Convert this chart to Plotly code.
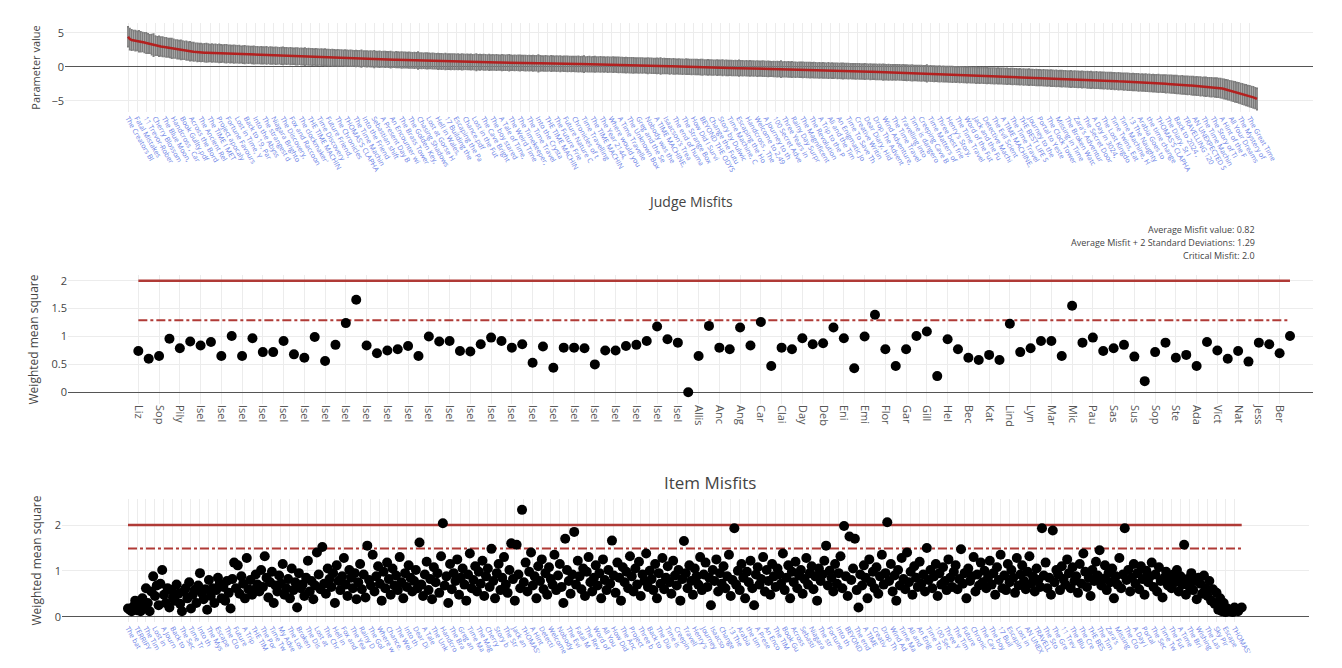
import plotly.graph_objects as go

# ---------------- Item parameter estimates (sorted) ----------------
PARAM = [
 4.45, 4.10, 3.97,
 3.93, 3.88, 3.84, 3.78, 3.71, 3.66, 3.59, 3.52, 3.45, 3.38, 3.29, 3.20,
 3.15, 3.10, 3.06, 3.01, 2.97, 2.92, 2.88, 2.83, 2.79, 2.74, 2.70, 2.65, 2.60,
 2.56, 2.52, 2.48, 2.44, 2.40, 2.36, 2.32, 2.28, 2.24, 2.20, 2.16,
 2.15, 2.13, 2.12, 2.10, 2.09, 2.08, 2.06, 2.05, 2.04, 2.03, 2.01, 2.00,
 1.99, 1.98, 1.96, 1.95, 1.94, 1.92, 1.91, 1.90, 1.88, 1.87, 1.86, 1.84, 1.83, 1.82, 1.81, 1.80, 1.79, 1.77, 1.76,
 1.75, 1.74, 1.73, 1.73, 1.72, 1.71, 1.70, 1.69, 1.68, 1.68, 1.67, 1.66, 1.66, 1.65, 1.64, 1.64, 1.63, 1.62,
 1.61, 1.60, 1.59, 1.58, 1.57, 1.56, 1.55, 1.54, 1.53, 1.52, 1.51, 1.50, 1.49, 1.48, 1.47, 1.46, 1.45, 1.44, 1.43, 1.42, 1.41, 1.40, 1.39, 1.38, 1.37,
 1.36, 1.35, 1.34, 1.34, 1.33, 1.32, 1.31, 1.30, 1.29, 1.28, 1.27, 1.27, 1.26, 1.25, 1.24, 1.23, 1.22, 1.21, 1.20, 1.20,
 1.19, 1.18, 1.17, 1.16, 1.15, 1.14, 1.13, 1.13, 1.12, 1.11, 1.10, 1.09, 1.08, 1.07, 1.07, 1.06, 1.05,
 1.04, 1.03, 1.02, 1.01, 1.00, 0.99, 0.98, 0.97, 0.96, 0.95, 0.94, 0.93, 0.92, 0.91, 0.90, 0.89, 0.88, 0.87, 0.86, 0.85,
 0.84, 0.83, 0.82, 0.81, 0.80, 0.80, 0.79, 0.78,
 0.78, 0.77, 0.77, 0.76, 0.76, 0.75, 0.75, 0.74, 0.74, 0.73, 0.73, 0.72, 0.72, 0.71, 0.71, 0.70, 0.70, 0.69, 0.69, 0.68,
 0.68, 0.67, 0.67, 0.66, 0.66, 0.65, 0.65, 0.64, 0.64, 0.63, 0.63, 0.62, 0.62, 0.61, 0.61, 0.60, 0.60, 0.59, 0.59, 0.58,
 0.58, 0.57, 0.57, 0.56, 0.56, 0.55, 0.55, 0.54, 0.54, 0.53, 0.53, 0.52, 0.52, 0.51, 0.51, 0.50, 0.50, 0.49, 0.49, 0.48,
 0.48, 0.47, 0.47, 0.46, 0.46, 0.45, 0.45, 0.44, 0.44, 0.43, 0.43, 0.42, 0.42, 0.41, 0.41, 0.41, 0.40, 0.40, 0.40, 0.39,
 0.39, 0.39,
 0.38, 0.37, 0.37, 0.36, 0.35, 0.34, 0.34, 0.33, 0.32, 0.31, 0.31, 0.30, 0.29, 0.28, 0.28, 0.27, 0.26, 0.25, 0.25, 0.24,
 0.23, 0.22, 0.22, 0.21, 0.20, 0.19, 0.19, 0.18, 0.17, 0.16, 0.16, 0.15, 0.14, 0.13, 0.13, 0.12, 0.11, 0.10, 0.10, 0.09,
 0.08, 0.07, 0.07, 0.06, 0.05, 0.04, 0.04, 0.03, 0.02, 0.01, 0.01, 0.00, -0.01, -0.02, -0.02, -0.03, -0.04, -0.05, -0.05, -0.06,
 -0.07, -0.08, -0.08, -0.09, -0.10, -0.11, -0.11, -0.12, -0.13, -0.14, -0.14, -0.15, -0.16, -0.16, -0.17, -0.17, -0.18, -0.18, -0.19, -0.19,
 -0.20, -0.20,
 -0.21, -0.22, -0.22, -0.23, -0.24, -0.25, -0.25, -0.26, -0.27, -0.28, -0.28, -0.29, -0.30, -0.31, -0.31, -0.32, -0.33, -0.34, -0.34, -0.35,
 -0.36, -0.37, -0.37, -0.38, -0.39, -0.40, -0.40, -0.41, -0.42, -0.43, -0.43, -0.44, -0.45, -0.46, -0.46, -0.47, -0.48, -0.49, -0.49, -0.50,
 -0.51, -0.52, -0.52, -0.53, -0.54, -0.55, -0.55, -0.56, -0.57, -0.58, -0.58, -0.59, -0.60, -0.61, -0.61, -0.62, -0.63, -0.64, -0.64, -0.65,
 -0.66, -0.67, -0.67, -0.68, -0.69, -0.70, -0.70, -0.71, -0.72, -0.73, -0.73, -0.74, -0.75, -0.75, -0.76, -0.77, -0.77, -0.78, -0.78, -0.79,
 -0.79, -0.80,
 -0.81, -0.82, -0.83, -0.84, -0.85, -0.86, -0.87, -0.88, -0.89, -0.90, -0.91, -0.92, -0.93, -0.94, -0.95, -0.96, -0.97, -0.98, -0.99, -1.00,
 -1.01, -1.02, -1.03, -1.03, -1.04, -1.05, -1.06, -1.07, -1.08, -1.09, -1.10, -1.11, -1.12, -1.13, -1.14, -1.15, -1.16, -1.17, -1.18, -1.19,
 -1.20, -1.21, -1.22, -1.23, -1.23, -1.24, -1.25, -1.26, -1.27, -1.28, -1.29, -1.30, -1.30, -1.31, -1.32,
 -1.33, -1.34, -1.35, -1.36, -1.37, -1.38, -1.40, -1.41, -1.42, -1.43, -1.44, -1.45, -1.47, -1.48, -1.49, -1.50, -1.51, -1.52, -1.54, -1.55,
 -1.56, -1.57, -1.58, -1.59, -1.61, -1.62, -1.63, -1.64, -1.65, -1.66, -1.68, -1.69, -1.70, -1.71, -1.72, -1.73, -1.75, -1.76, -1.77, -1.78,
 -1.79, -1.80, -1.82, -1.83, -1.84, -1.85, -1.86, -1.87, -1.89, -1.90, -1.91, -1.92, -1.93, -1.94, -1.95,
 -1.96, -1.98, -1.99, -2.01, -2.02, -2.04, -2.05, -2.07, -2.08, -2.10, -2.11, -2.12, -2.14, -2.15, -2.17, -2.18, -2.20, -2.21, -2.23, -2.24,
 -2.26, -2.27, -2.28, -2.30, -2.31, -2.33, -2.34, -2.36, -2.37, -2.39, -2.40, -2.41, -2.43, -2.44, -2.46, -2.47, -2.49, -2.50,
 -2.52, -2.54, -2.56, -2.58, -2.60, -2.62, -2.64, -2.66, -2.68, -2.70, -2.72, -2.74, -2.76, -2.78, -2.80, -2.83, -2.85,
 -2.87, -2.89, -2.91, -2.93, -2.95, -2.97, -2.99, -3.01, -3.04, -3.07, -3.10,
 -3.16, -3.23, -3.30, -3.37, -3.44, -3.51, -3.58, -3.65, -3.73, -3.81, -3.90,
 -3.98, -4.06, -4.14, -4.22, -4.30, -4.38, -4.47, -4.57, -4.70,
]

# standard errors of the parameter estimates (error bars)
SE = [
 1.45,1.55,1.50,1.42,1.48,1.40,1.52,1.45,1.38,1.44,1.50,1.42,1.36,1.47,1.62,1.40,1.35,1.45,1.38,1.42,
 1.36,1.40,1.33,1.38,1.45,1.35,1.30,1.37,1.32,1.40,1.34,1.28,1.36,1.31,1.38,1.30,1.34,1.27,1.33,1.29,
 1.32,1.26,1.30,1.35,1.28,1.24,1.31,1.27,1.29,1.25,1.33,1.26,1.23,1.28,1.30,1.24,1.27,1.22,1.29,1.25,
 1.23,1.27,1.21,1.26,1.30,1.22,1.25,1.20,1.24,1.28,1.21,1.23,1.19,1.25,1.22,1.20,1.26,1.18,1.23,1.21,
 1.19,1.24,1.20,1.17,1.22,1.25,1.18,1.21,1.16,1.23,1.19,1.17,1.22,1.20,1.15,1.21,1.18,1.24,1.16,1.19,
 1.17,1.20,1.15,1.22,1.18,1.14,1.19,1.16,1.21,1.15,1.18,1.13,1.20,1.16,1.14,1.19,1.15,1.17,1.12,1.18,
 1.15,1.12,1.17,1.13,1.10,1.16,1.12,1.14,1.20,1.11,1.13,1.15,1.10,1.14,1.12,1.22,1.11,1.13,1.16,1.10,
 1.12,1.15,1.10,1.13,1.18,1.11,1.09,1.14,1.12,1.10,1.16,1.11,1.13,1.09,1.15,1.12,1.10,1.14,1.11,1.24,
 1.10,1.13,1.09,1.12,1.15,1.10,1.08,1.13,1.11,1.09,1.14,1.10,1.12,1.08,1.16,1.11,1.09,1.13,1.10,1.12,
 1.09,1.12,1.08,1.14,1.10,1.07,1.11,1.09,1.13,1.08,1.10,1.20,1.09,1.11,1.07,1.12,1.10,1.08,1.13,1.09,
 1.11,1.08,1.12,1.09,1.07,1.13,1.10,1.08,1.11,1.15,1.09,1.07,1.12,1.08,1.10,1.13,1.07,1.09,1.11,1.08,
 1.10,1.07,1.12,1.09,1.08,1.22,1.10,1.07,1.09,1.11,1.08,1.06,1.12,1.09,1.07,1.10,1.08,1.13,1.06,1.09,
 1.08,1.11,1.07,1.09,1.06,1.10,1.08,1.12,1.07,1.09,1.18,1.06,1.08,1.10,1.07,1.09,1.11,1.06,1.08,1.10,
 1.07,1.09,1.06,1.11,1.08,1.06,1.10,1.07,1.09,1.12,1.06,1.08,1.07,1.10,1.06,1.09,1.08,1.11,1.07,1.06,
 1.09,1.07,1.10,1.06,1.08,1.12,1.07,1.09,1.06,1.08,1.10,1.07,1.16,1.06,1.09,1.08,1.07,1.10,1.06,1.09,
 1.08,1.06,1.10,1.07,1.09,1.06,1.11,1.08,1.07,1.09,1.06,1.10,1.08,1.07,1.09,1.12,1.06,1.08,1.10,1.07,
 1.09,1.07,1.06,1.10,1.08,1.07,1.11,1.06,1.09,1.08,1.07,1.10,1.06,1.09,1.08,1.13,1.07,1.09,1.06,1.10,
 1.08,1.10,1.07,1.09,1.06,1.11,1.08,1.07,1.10,1.09,1.07,1.12,1.08,1.06,1.09,1.07,1.10,1.08,1.18,1.07,
 1.09,1.07,1.10,1.08,1.11,1.07,1.09,1.06,1.10,1.08,1.12,1.07,1.09,1.08,1.10,1.07,1.11,1.09,1.07,1.10,
 1.08,1.11,1.09,1.07,1.12,1.08,1.10,1.09,1.07,1.11,1.08,1.10,1.13,1.08,1.09,1.11,1.07,1.10,1.08,1.12,
 1.09,1.11,1.08,1.10,1.13,1.09,1.07,1.11,1.10,1.08,1.12,1.09,1.11,1.08,1.14,1.10,1.09,1.12,1.08,1.11,
 1.10,1.12,1.09,1.11,1.08,1.13,1.10,1.12,1.09,1.11,1.14,1.10,1.08,1.12,1.10,1.13,1.09,1.11,1.21,1.10,
 1.12,1.10,1.13,1.09,1.11,1.14,1.10,1.12,1.11,1.09,1.13,1.11,1.15,1.10,1.12,1.09,1.14,1.11,1.13,1.10,
 1.13,1.11,1.14,1.10,1.12,1.15,1.11,1.13,1.10,1.14,1.12,1.16,1.11,1.13,1.12,1.15,1.10,1.14,1.12,1.13,
 1.14,1.12,1.15,1.11,1.13,1.16,1.12,1.14,1.13,1.17,1.12,1.15,1.13,1.14,1.18,1.12,1.15,1.13,1.16,1.14,
 1.15,1.13,1.17,1.14,1.16,1.12,1.18,1.15,1.14,1.17,1.13,1.16,1.19,1.14,1.17,1.15,1.16,1.20,1.15,1.17,
 1.16,1.18,1.15,1.20,1.17,1.16,1.19,1.17,1.22,1.16,1.18,1.20,1.17,1.19,1.18,1.21,1.17,1.20,1.18,1.22,
 1.19,1.21,1.18,1.23,1.20,1.19,1.22,1.20,1.24,1.21,1.19,1.23,1.21,1.22,1.25,1.20,1.23,1.22,1.26,1.21,
 1.24,1.22,1.26,1.23,1.25,1.28,1.24,1.26,1.25,1.29,1.26,1.27,1.30,1.26,1.28,1.31,1.27,1.29,1.32,1.28,
 1.30,1.33,1.29,1.32,1.35,1.31,1.34,1.33,1.36,1.32,1.35,1.38,1.34,1.36,1.39,1.35,1.38,1.40,1.37,1.41,
 1.39,1.42,1.40,1.44,1.41,1.45,1.43,1.47,1.44,1.48,1.46,1.50,1.47,1.52,1.49,1.53,1.51,1.55,1.52,1.56,
]

# tick labels (every 5th item) for the parameter chart
TOP_TICKS = [
 "The Creators Blackhe", "Fatal Mistakes : King's", "11 Trevor-Roberts Sch", "Cherry Blossom Boo", "The Blue Moon, St C",
 "Handcross , Carlos' A", "Book Gullty.pdf", "Across the Borders of", "The Ancient Relic Bro", "The TIME I MET THE C",
 "Project apocalypse Mi", "Fortune Favours the B", "Lost in Time, Yasir S", "Back to 19, Parkside", "Into the Abyss Solide",
 "The strangest day, Hol", "Niagara Brighton Colle", "The Discovery, St Geo", "Fox and Raccoon, Wa", "The clockmaker's W",
 "THE TIME MACHINE, C", "Time Discovery . Grov", "Future Friend, St Jos", "The Chronicles of Tim", "THOMAS'S CLAPHAM 7",
 "The Time Machine, St", "Into the Friends, Ma", "Sebastian shifts, Etc", "A Present Day Brighto", "An Encounter with Tim",
 "The Brass Tower, Ca", "The Golden Key, Co", "Chasing Shadows, Ho", "Lost at Gorse Hill, B", "Hell in Wales, Colle",
 "17 Building the Futu", "Escaping the Past, F", "Chance.pdf", "Lost in the Future, H", "The Cave Brighton Co",
 "The boy stared at th", "A Tale of Time, St Be", "The Weird Time Trav", "The Timekeeper, A D", "The Time Travel Brig",
 "Into the Crystal Mac", "THE TIME MACHINE, B", "The Future Friend, W", "Future Nature Corne", "Chronicles of the Pa",
 "Time Travelling Trou", "The TIME MACHINE, T", "The Year 2144, Park", "Where would you go", "A Time Traveller Gam",
 "The Unknown Box, S", "Greg and the Secret", "Nobody was the best", "A TIME MACHINE, AD", "Isaacson's Treasure",
 "The end of humanity", "The Strange Box, St", "How Did I Survive, D", "BEYOND THE ODYSSE", "Change the Future, L",
 "Story by Dulwich Pre", "Time Machine, Cath", "Escaping the Hole, K", "Handcross , The Tim", "Welcome to 2,491, H",
 "A Journey to the Unk", "100 Secret Adventure", "Three Years in the Fu", "Rainy Day Surprise, S", "The Magnificent Tim",
 "The Revolution of Ti", "A Trip to the Past, W", "Ali and the Time Mac", "An Enigmatic Journe", "Time To Save The W",
 "Creative Writing Stor", "Dear Diary, Hidden G", "Drop The Adventure", "Wind Adventure, Brig", "The Time Travelling",
 "Travelling into the Fu", "Time is dangerous, S", "Creeping Cave Bright", "Time Matters of Croy", "Three best friends, C",
 "Henry's Story, Skipp", "The Time Travelling M", "Word of the Future, E", "Jack and the Future", "Detective Machine, A",
 "The Evil Scientist SC", "A TIME MACHINE, Tru", "The Time Travellers", "THE BEST LIFE SUMM", "Journey to the Futur",
 "Portal to Yesterday", "The Clock Tower, Bri", "Missing in Time, Gro", "The Broken Watch, K", "Zara's Adventure, St",
 "The Secret Door, Hol", "A Day in 3024, Park", "The Lost Kingdom, W", "Time Twins, Eaton Sq", "Time Machine, Hidde",
 "13 The Naughty One", "Arabia Goes to Educ", "the time changer, Te", "THOMAS'S CLAPHAM 1", "The Diary, St Ivo Sch",
 "Back to 2024 , Eaton", "TRAVELLING 120 YEA", "AN UNEXPECTED SUR", "The Time Machine, BT", "The Story of Time Tra",
 "A Hint of the Future", "All Your Dreams of Ti", "The Mystery of the Ma", "The Great Time Trave",
]

# ---------------- Judge misfits ----------------
JUDGE_MISFIT = [
 0.74, 0.60, 0.65, 0.96, 0.79, 0.91, 0.84, 0.90, 0.65, 1.01,
 0.65, 0.97, 0.72, 0.72, 0.92, 0.68, 0.62, 0.99, 0.56, 0.85,
 1.24, 1.66, 0.84, 0.70, 0.75, 0.77, 0.83, 0.65, 1.00, 0.91,
 0.92, 0.74, 0.73, 0.86, 0.98, 0.92, 0.80, 0.86, 0.53, 0.82,
 0.44, 0.80, 0.80, 0.79, 0.50, 0.75, 0.75, 0.83, 0.85, 0.92,
 1.18, 0.95, 0.89, 0.00, 0.65, 1.19, 0.80, 0.77, 1.16, 0.84,
 1.26, 0.47, 0.80, 0.77, 0.97, 0.86, 0.88, 1.16, 0.97, 0.43,
 1.00, 1.39, 0.77, 0.47, 0.77, 1.01, 1.09, 0.29, 0.95, 0.77,
 0.62, 0.58, 0.67, 0.58, 1.23, 0.72, 0.79, 0.92, 0.92, 0.65,
 1.55, 0.89, 0.98, 0.74, 0.79, 0.85, 0.64, 0.20, 0.72, 0.89,
 0.62, 0.67, 0.47, 0.90, 0.75, 0.60, 0.74, 0.55, 0.89, 0.86,
 0.70, 1.01,
]
JUDGE_TICKS = [
 "Liz", "Sop", "Pily",
 "Isel", "Isel", "Isel", "Isel", "Isel", "Isel", "Isel", "Isel", "Isel", "Isel", "Isel", "Isel",
 "Isel", "Isel", "Isel", "Isel", "Isel", "Isel", "Isel", "Isel", "Isel", "Isel", "Isel", "Isel",
 "Allis", "Anc", "Ang", "Car", "Clai", "Day", "Deb", "Eni", "Emi", "Flor", "Gar", "Gill", "Hel",
 "Bec", "Kat", "Lind", "Lyn", "Mar", "Mic", "Pau", "Sas", "Sus", "Sop", "Ste", "Ada", "Vict",
 "Nat", "Jess", "Ber",
]
JUDGE_AVG = 0.82
JUDGE_AVG_2SD = 1.29
CRITICAL = 2.0

# ---------------- Item misfits ----------------
ITEM_MISFIT = [
 0.18,0.15,0.12,0.22,0.35,0.14,0.25,0.12,0.40,0.20,0.62,0.30,0.12,0.55,0.88,0.45,0.68,0.25,0.72,1.02,
 0.48,0.30,0.62,0.20,0.58,0.42,0.35,0.70,0.50,0.28,0.12,0.55,0.62,0.40,0.75,0.18,0.48,0.58,0.30,0.68,
 0.95,0.52,0.38,0.60,0.15,0.80,0.45,0.62,0.30,0.58,0.85,0.72,0.40,0.65,0.35,0.78,0.52,0.18,0.82,1.18,
 0.62,1.12,0.50,0.88,0.72,0.40,1.28,0.60,0.80,0.48,0.58,0.92,0.70,0.55,1.02,0.65,1.32,0.85,0.42,0.75,
 0.98,0.30,0.68,0.55,0.90,0.72,1.15,0.48,0.62,0.82,0.40,1.05,0.58,0.75,0.20,0.95,0.62,0.70,0.45,0.85,
 1.22,0.55,0.78,0.38,0.68,1.40,0.92,0.60,1.52,0.72,0.50,1.05,0.82,0.65,0.95,0.30,1.12,0.78,0.58,0.88,
 1.28,0.70,0.45,1.02,0.85,0.62,0.95,0.38,0.75,1.15,0.60,0.92,0.42,1.55,0.80,0.68,1.35,0.55,0.88,1.10,
 0.72,0.35,0.98,0.62,1.18,0.82,0.48,1.05,0.68,0.90,0.58,1.30,0.75,0.40,0.95,0.65,1.12,0.85,0.55,0.78,
 1.02,0.62,1.62,0.70,0.45,0.92,1.20,0.58,0.82,0.38,1.08,0.75,0.95,0.52,1.32,2.04,0.68,0.88,0.30,1.15,
 0.60,0.95,0.78,1.25,0.48,0.85,1.05,0.70,0.35,0.92,1.38,0.62,0.80,1.10,0.55,0.98,0.72,1.22,0.45,0.88,
 1.05,0.65,1.48,0.78,0.40,0.95,1.15,0.58,0.85,1.30,0.70,0.52,1.02,1.60,0.82,0.35,1.57,0.92,0.62,2.33,
 0.75,1.18,0.55,0.98,1.40,0.68,0.88,0.40,1.10,0.78,1.25,0.60,0.95,0.48,1.08,0.82,0.70,1.35,0.58,0.90,
 1.15,0.65,0.30,1.70,1.02,0.78,0.50,0.92,1.85,0.70,1.22,0.88,0.60,1.05,0.45,0.98,1.30,0.75,0.55,0.85,
 1.12,0.68,0.95,0.40,1.25,0.80,0.58,1.02,0.72,1.66,0.90,0.52,1.18,0.85,0.35,1.08,0.75,0.98,0.62,1.32,
 0.88,0.55,1.05,0.70,1.20,0.45,0.92,0.78,1.38,0.65,1.00,0.82,0.58,1.15,0.40,0.95,0.72,1.28,0.60,0.85,
 1.10,0.75,0.50,1.22,0.90,0.68,1.02,0.35,0.82,1.65,0.95,0.62,1.12,0.78,0.48,1.05,0.88,0.70,1.30,0.58,
 0.92,1.18,0.65,0.85,0.25,1.02,0.78,1.25,0.55,0.95,0.72,1.10,0.62,0.88,1.35,0.45,0.80,1.93,0.70,1.00,
 0.58,1.15,0.85,0.40,0.98,0.75,1.22,0.62,0.25,0.92,1.08,0.70,0.82,1.30,0.55,1.02,0.78,0.48,1.15,0.88,
 0.65,1.05,0.92,0.72,1.38,0.58,0.85,1.12,0.40,0.98,0.75,1.20,0.62,0.90,1.02,0.50,0.82,1.28,0.70,0.95,
 1.10,0.60,0.88,0.35,1.05,0.78,0.92,1.22,1.55,0.68,1.00,0.85,0.55,1.15,0.72,0.95,1.32,0.62,1.98,0.88,
 0.45,1.75,0.80,1.05,1.70,0.58,0.20,0.92,0.68,1.12,0.85,0.40,1.25,0.75,0.98,0.62,1.08,0.50,0.88,1.35,
 0.70,0.95,2.06,0.78,1.15,0.55,0.90,0.35,1.02,0.68,1.28,0.82,0.60,1.40,0.75,0.98,0.48,1.10,0.85,0.65,
 1.20,0.72,0.92,0.55,1.50,0.80,1.02,0.62,0.88,1.15,0.45,0.95,0.70,1.08,0.78,0.58,1.25,0.85,0.65,0.98,
 1.12,0.60,0.82,1.47,0.72,0.95,0.40,1.05,0.78,0.88,1.30,0.55,0.92,0.68,1.18,0.75,1.00,0.62,0.85,1.22,
 0.70,0.95,0.48,1.08,0.80,1.35,0.62,0.90,0.58,1.15,0.75,1.02,0.85,0.52,1.28,0.68,0.92,1.12,0.78,0.60,
 0.98,1.32,0.72,0.88,0.55,1.05,0.80,0.65,1.93,0.90,1.18,0.62,0.85,0.48,1.88,0.75,1.02,0.92,0.58,1.10,
 0.82,0.70,1.25,0.95,0.62,1.08,0.78,0.88,0.52,1.15,0.72,1.38,0.98,0.65,0.85,0.45,1.02,0.78,1.20,0.90,
 1.45,0.68,0.82,1.12,0.58,0.95,0.75,1.05,0.40,0.88,0.70,1.28,0.62,0.92,1.93,0.80,1.02,0.55,0.85,1.15,
 0.72,0.95,0.60,1.10,0.82,0.48,1.00,0.75,0.88,1.18,0.65,0.92,0.55,1.08,0.78,0.42,0.85,0.98,0.68,0.80,
 0.62,0.92,0.75,1.02,0.55,0.88,0.70,1.57,0.48,0.82,0.65,0.95,0.58,0.78,0.38,0.85,0.72,0.50,0.90,0.62,
 0.45,0.78,0.35,0.60,0.28,0.52,0.15,0.40,0.12,0.30,0.10,0.18,0.12,0.15,0.10,0.20,0.14,0.12,0.18,0.20,
]
ITEM_AVG_2SD = 1.49

BOTTOM_TICKS = [
 "The battle", "TERRIFYING", "The Time M", "Lost in Ti", "A Journey", "Back to 19", "The Secret", "Time Trave", "Into the F", "The Myster",
 "Escape fro", "The Clock", "Future Fri", "A Trip to", "THE TIME M", "The Portal", "Time Twins", "My Advent", "The Lost K", "Broken Wat",
 "The Discov", "Lost at Go", "The Chroni", "Hell in Wa", "Fox and Ra", "The Year 2", "Rainy Day", "The Golden", "Where woul", "Chance.pdf",
 "The Weird", "Into the C", "Dear Diary", "A Tale of", "The Unknow", "Handcross", "The Brass", "Greg and t", "Time Machi", "The Magnif",
 "Cherry Blo", "Story by D", "The Strang", "Jack and t", "THOMAS'S C", "A Hint of", "Detective", "Welcome to", "Nobody was", "The Evil S",
 "Fatal Mist", "The Revolu", "Word of th", "All Your D", "How Did I", "The Ancien", "Project ap", "Three best", "Back to 20", "The Diary",
 "Time is da", "Creeping C", "Travelling", "Henry's St", "Journey to", "Isaacson's", "Change the", "13 The Nau", "Arabia Goe", "the time c",
 "A Present", "An Encount", "The TIME I", "Book Gullt", "Across the", "Sebastian", "Niagara Br", "The strang", "Fortune Fa", "Into the A",
 "BEYOND THE", "The end of", "A TIME MAC", "Creative W", "Drop The A", "Wind Adven", "Time Matte", "Ali and th", "An Enigmat", "Time To Sa",
 "100 Secret", "Three Year", "The Timeke", "Future Nat", "Chronicles", "The Cave B", "The boy st", "17 Buildin", "Escaping t", "Lost in th",
 "AN UNEXPEC", "TRAVELLING", "The Story", "The Great", "11 Trevor-", "The Blue M", "The Creato", "THE BEST L", "The Time T", "Zara's Adv",
 "Missing in", "The Clock", "A Day in 3", "Portal to", "The Secret", "Time Twins", "The Future", "A Time Tra", "The Bright", "Wishing We",
 "The Last D", "Sky Pirate", "Escape Roo", "THOMAS'S",
]

# ---------------- figure ----------------
OFF = 8                      # page body margin: figure is drawn 8px in from the window corner
W, H = 1342 - OFF, 668 - OFF
RED = "#b3201f"
LINE_RED = "#b03a36"
BLUE = "#6b7fe6"
GRID = "#ececec"

n_items = len(PARAM)
item_idx = list(range(n_items))
n_judges = len(JUDGE_MISFIT)
judge_idx = list(range(n_judges))
n_mis = len(ITEM_MISFIT)
mis_idx = list(range(n_mis))

def px(x):
    return (x - OFF) / W

def py(y):
    return 1 - (y - OFF) / H

def xd(a, b):
    return [px(a), px(b)]

def yd(top, bottom):
    return [py(bottom), py(top)]

fig = go.Figure()

# top: error bars + parameter line
fig.add_trace(go.Scatter(
    x=item_idx, y=PARAM, mode="markers",
    marker=dict(size=1, color="rgba(0,0,0,0)"),
    error_y=dict(type="data", array=SE, color="#7d7d7d", thickness=1.7, width=1),
    xaxis="x", yaxis="y", hoverinfo="skip"))
fig.add_trace(go.Scatter(
    x=item_idx, y=PARAM, mode="lines", line=dict(color=RED, width=2.5),
    xaxis="x", yaxis="y"))

# middle: judge misfits
fig.add_trace(go.Scatter(x=[judge_idx[0], judge_idx[-1]], y=[CRITICAL, CRITICAL], mode="lines",
                         line=dict(color=LINE_RED, width=2.5), xaxis="x2", yaxis="y2"))
fig.add_trace(go.Scatter(x=[judge_idx[0], judge_idx[-1]], y=[JUDGE_AVG_2SD, JUDGE_AVG_2SD], mode="lines",
                         line=dict(color=LINE_RED, width=2, dash="dashdot"), xaxis="x2", yaxis="y2"))
fig.add_trace(go.Scatter(x=judge_idx, y=JUDGE_MISFIT, mode="markers",
                         marker=dict(color="black", size=10), xaxis="x2", yaxis="y2"))

# bottom: item misfits
fig.add_trace(go.Scatter(x=[mis_idx[0], mis_idx[-1]], y=[CRITICAL, CRITICAL], mode="lines",
                         line=dict(color=LINE_RED, width=2.5), xaxis="x3", yaxis="y3"))
fig.add_trace(go.Scatter(x=[mis_idx[0], mis_idx[-1]], y=[ITEM_AVG_2SD, ITEM_AVG_2SD], mode="lines",
                         line=dict(color=LINE_RED, width=2, dash="dashdot"), xaxis="x3", yaxis="y3"))
fig.add_trace(go.Scatter(x=mis_idx, y=ITEM_MISFIT, mode="markers",
                         marker=dict(color="black", size=10), xaxis="x3", yaxis="y3"))

common_x = dict(showgrid=True, gridcolor=GRID, zeroline=False, showline=False,
                automargin=False, ticks="")
common_y = dict(showgrid=True, gridcolor=GRID, zeroline=True, zerolinecolor="#555555",
                zerolinewidth=1.3, showline=False, automargin=False, ticks="",
                tickfont=dict(size=11, color="#444"))

# top axes
s_top = (1257 - 128) / (n_items - 1)
fig.update_layout(
    xaxis=dict(common_x, domain=xd(65, 1313), anchor="y",
               range=[-(128 - 65) / s_top, (n_items - 1) + (1313 - 1257) / s_top],
               tickmode="array", tickvals=item_idx[::5],
               ticktext=[t[:15] for t in TOP_TICKS], tickangle=60,
               tickfont=dict(size=7, color=BLUE)),
    yaxis=dict(common_y, domain=yd(23, 112), anchor="x", range=[-6.62, 6.47],
               tickvals=[-5, 0, 5],
               title=dict(text="Parameter value", font=dict(size=11, color="#444"), standoff=8)),
)

# middle axes
s_j = 10.37
fig.update_layout(
    xaxis2=dict(common_x, domain=xd(68, 1313), anchor="y2",
                range=[-(138.3 - 68) / s_j, (n_judges - 1) + (1313 - 1290) / s_j],
                tickmode="array", tickvals=judge_idx[::2], ticktext=JUDGE_TICKS,
                tickangle=90, tickfont=dict(size=11, color="#555")),
    yaxis2=dict(common_y, domain=yd(275, 404), anchor="x2",
                range=[-(404 - 392.3) / 55.8, (392.3 - 275) / 55.8],
                tickvals=[0, 0.5, 1, 1.5, 2],
                title=dict(text="Weighted mean square", font=dict(size=12, color="#444"), standoff=10)),
)

# bottom axes
s_b = (1241.7 - 128) / (n_mis - 1)
fig.update_layout(
    xaxis3=dict(common_x, domain=xd(62, 1309), anchor="y3",
                range=[-(128 - 62) / s_b, (n_mis - 1) + (1309 - 1241.7) / s_b],
                tickmode="array", tickvals=mis_idx[::5], ticktext=[t[:7] for t in BOTTOM_TICKS],
                tickangle=60, tickfont=dict(size=7, color=BLUE)),
    yaxis3=dict(common_y, domain=yd(499, 622), anchor="x3",
                range=[-(622 - 616.7) / 45.85, (616.7 - 499) / 45.85],
                tickvals=[0, 1, 2],
                title=dict(text="Weighted mean square", font=dict(size=12, color="#444"), standoff=10)),
)

annotations = [
    dict(text="Judge Misfits", x=px(690), y=py(201), xref="paper", yref="paper",
         showarrow=False, font=dict(size=14, color="#444"), xanchor="center", yanchor="middle"),
    dict(text="Item Misfits", x=px(710), y=py(482), xref="paper", yref="paper",
         showarrow=False, font=dict(size=17, color="#444"), xanchor="center", yanchor="middle"),
    dict(text=f"Average Misfit value: {JUDGE_AVG}", x=px(1257), y=py(229), xref="paper", yref="paper",
         showarrow=False, font=dict(size=9, color="#444"), xanchor="right", yanchor="middle"),
    dict(text=f"Average Misfit + 2 Standard Deviations: {JUDGE_AVG_2SD}", x=px(1257), y=py(242.5),
         xref="paper", yref="paper", showarrow=False, font=dict(size=9, color="#444"),
         xanchor="right", yanchor="middle"),
    dict(text=f"Critical Misfit: {CRITICAL}", x=px(1257), y=py(256), xref="paper", yref="paper",
         showarrow=False, font=dict(size=9, color="#444"), xanchor="right", yanchor="middle"),
]

fig.update_layout(
    template="plotly_white",
    width=W, height=H,
    margin=dict(l=0, r=0, t=0, b=0),
    showlegend=False,
    paper_bgcolor="white", plot_bgcolor="white",
    font=dict(family="Open Sans, Arial, sans-serif", color="#444"),
    annotations=annotations,
)

fig.write_html("out.html")
